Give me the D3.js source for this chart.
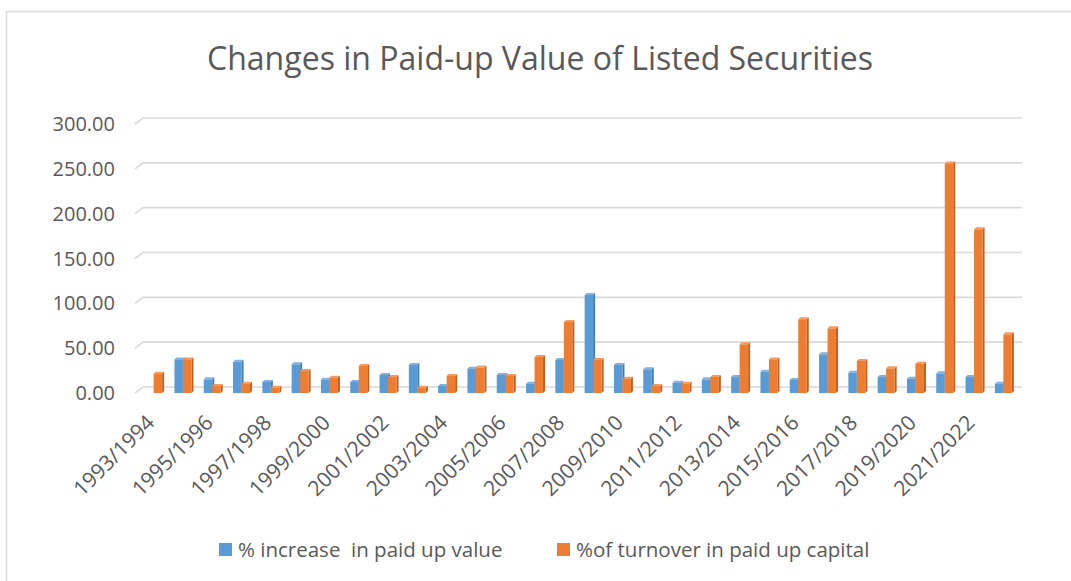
<!DOCTYPE html>
<html>
<head>
  <meta charset="utf-8">
  <title>Changes in Paid-up Value of Listed Securities</title>
  <style>
    body { margin: 0; background: #fff; }
    text { font-family: "Open Sans", "Noto Sans", sans-serif; fill: #595959; }
  </style>
</head>
<body>
<script src="https://cdnjs.cloudflare.com/ajax/libs/d3/7.8.5/d3.min.js"></script>
<div id="vis"></div>
<script>

var years = [
  "1993/1994","1994/1995","1995/1996","1996/1997","1997/1998","1998/1999",
  "1999/2000","2000/2001","2001/2002","2002/2003","2003/2004","2004/2005",
  "2005/2006","2006/2007","2007/2008","2008/2009","2009/2010","2010/2011",
  "2011/2012","2012/2013","2013/2014","2014/2015","2015/2016","2016/2017",
  "2017/2018","2018/2019","2019/2020","2020/2021","2021/2022","2022/2023"
];

// % increase in paid up value
var increase = [0, 37.5, 15.2, 34.9, 12.3, 32.0, 14.9, 12.3, 20.1, 31.2,
  7.8, 27.1, 20.1, 10.4, 36.8, 109.3, 31.2, 26.4, 11.5, 15.2,
  17.8, 23.8, 14.5, 43.1, 22.7, 17.8, 16.0, 21.9, 17.8, 10.4];

// % of turnover in paid up capital
var turnover = [21.6, 37.5, 7.8, 10.4, 5.9, 24.5, 17.1, 30.1, 17.8, 5.9,
  19.0, 28.3, 19.0, 40.1, 79.2, 36.8, 16.0, 7.8, 10.4, 17.8,
  54.3, 37.5, 82.2, 72.1, 35.7, 27.5, 32.7, 256.0, 182.5, 65.4];

var yTicks = [0, 50, 100, 150, 200, 250, 300];
var seriesNames = ["% increase  in paid up value", "%of turnover in paid up capital"];

var W = 1071, H = 581;
var svg = d3.select("#vis").append("svg").attr("width", W).attr("height", H);

// chart border
svg.append("rect").attr("x", 6.5).attr("y", 11.5).attr("width", W).attr("height", H)
  .attr("fill", "none").attr("stroke", "#d9d9d9").attr("stroke-width", 1.5);

svg.append("text").attr("x", 540).attr("y", 70).attr("text-anchor", "middle")
  .style("font-size", "32px").attr("textLength", 666).attr("lengthAdjust", "spacingAndGlyphs")
  .text("Changes in Paid-up Value of Listed Securities");

var x = d3.scaleBand().domain(years).range([139, 1018]);
var y = d3.scaleLinear().domain([0, 300]).range([393, 124]);
var dep = 8, dh = 6; // floor depth offset for gridlines

// gridlines (back wall + slanted floor edge)
var grid = svg.append("g");
yTicks.forEach(function (t) {
  var yy = y(t);
  grid.append("path")
    .attr("d", "M135," + yy + "L" + (135 + dep) + "," + (yy - dh) + "L1022," + (yy - dh))
    .attr("fill", "none").attr("stroke", "#d9d9d9").attr("stroke-width", 1.6);
});

svg.append("g").selectAll("text").data(yTicks).enter().append("text")
  .attr("x", 115).attr("y", function (d) { return y(d); }).attr("dy", "0.35em")
  .attr("text-anchor", "end").style("font-size", "20px")
  .text(function (d) { return d.toFixed(2); });

// bars with a small 3D look
var bw = 8.5, sd = 2;
var colors = [
  { front: "#5b9bd5", side: "#4479ab", top: "#7fb2e0" },
  { front: "#ed7d31", side: "#bd5f22", top: "#f39a5e" }
];
var data = [];
years.forEach(function (yr, i) {
  if (increase[i] > 0) data.push({ yr: yr, s: 0, v: increase[i] });
  if (turnover[i] > 0) data.push({ yr: yr, s: 1, v: turnover[i] });
});

var bars = svg.append("g").selectAll("g").data(data).enter().append("g");
function bx(d) { return x(d.yr) + x.bandwidth() / 2 - bw + d.s * bw; }
bars.append("path")
  .attr("fill", function (d) { return colors[d.s].side; })
  .attr("d", function (d) {
    var x0 = bx(d) + bw, yt = y(d.v), yb = y(0);
    return "M" + x0 + "," + yb + "L" + (x0 + sd) + "," + (yb - sd) + "L" + (x0 + sd) + "," + (yt - sd) + "L" + x0 + "," + yt + "Z";
  });
bars.append("path")
  .attr("fill", function (d) { return colors[d.s].top; })
  .attr("d", function (d) {
    var x0 = bx(d), yt = y(d.v);
    return "M" + x0 + "," + yt + "L" + (x0 + sd) + "," + (yt - sd) + "L" + (x0 + bw + sd) + "," + (yt - sd) + "L" + (x0 + bw) + "," + yt + "Z";
  });
bars.append("rect")
  .attr("x", bx).attr("width", bw)
  .attr("y", function (d) { return y(d.v); })
  .attr("height", function (d) { return y(0) - y(d.v); })
  .attr("fill", function (d) { return colors[d.s].front; });

// x labels, every other category
svg.append("g").selectAll("text").data(years.filter(function (d, i) { return i % 2 === 0; }))
  .enter().append("text")
  .attr("text-anchor", "end").style("font-size", "21px")
  .attr("transform", function (d) { return "translate(" + (x(d) + x.bandwidth() / 2 + 2) + ",424) rotate(-45)"; })
  .text(function (d) { return d; });

// legend
var lg = svg.append("g");
var lx = [219, 557];
seriesNames.forEach(function (n, i) {
  lg.append("rect").attr("x", lx[i]).attr("y", 543).attr("width", 13).attr("height", 13)
    .attr("fill", colors[i].front);
  lg.append("text").attr("x", lx[i] + 19).attr("y", 557).style("font-size", "20.5px")
    .style("white-space", "pre").attr("xml:space", "preserve").text(n);
});

</script>
</body>
</html>
